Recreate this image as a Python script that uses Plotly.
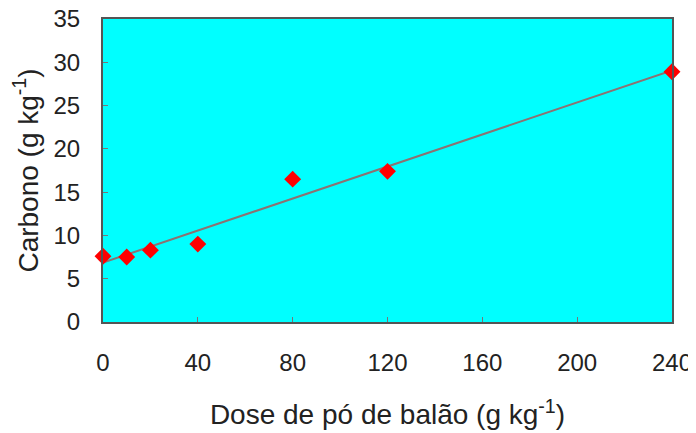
import numpy as np
import plotly.graph_objects as go

dose = [0, 10, 20, 40, 80, 120, 240]
carbono = [7.6, 7.5, 8.3, 9.0, 16.5, 17.4, 28.9]
x_ticks = [0, 40, 80, 120, 160, 200, 240]
y_ticks = [0, 5, 10, 15, 20, 25, 30, 35]

slope, intercept = np.polyfit(dose, carbono, 1)
fit_x = np.linspace(0, 240, 50)
fit_y = slope * fit_x + intercept

font = "Liberation Sans, Arial, sans-serif"

fig = go.Figure()
fig.add_trace(go.Scatter(x=fit_x, y=fit_y, mode="lines",
                         line=dict(color="#8c7272", width=2),
                         hoverinfo="skip", cliponaxis=False))
fig.add_trace(go.Scatter(x=dose, y=carbono, mode="markers",
                         marker=dict(symbol="diamond", size=13, color="#ff0000"),
                         cliponaxis=False))

fig.update_layout(
    width=696, height=441,
    margin=dict(l=95, r=32, t=11, b=127),
    paper_bgcolor="white", plot_bgcolor="#00ffff",
    showlegend=False,
    font=dict(family=font, size=24, color="#222222"),
    xaxis=dict(range=[0, 240], tickvals=x_ticks, ticks="inside", ticklen=5,
               tickcolor="#777777", showgrid=False, zeroline=False,
               showline=True, linecolor="#555555", linewidth=2, mirror=True,
               ticklabelstandoff=18, automargin=False, ticklabeloverflow="allow",
               title=dict(text="Dose de pó de balão (g kg<sup>-1</sup>)",
                          font=dict(size=28), standoff=30)),
    yaxis=dict(range=[0, 35], tickvals=y_ticks, ticks="inside", ticklen=5,
               tickcolor="#777777", showgrid=False, zeroline=False,
               showline=True, linecolor="#555555", linewidth=2, mirror=True,
               ticklabelstandoff=16, automargin=False, ticklabeloverflow="allow",
               title=dict(text="Carbono (g kg<sup>-1</sup>)",
                          font=dict(size=28), standoff=18)),
)

fig.write_html("out.html")
